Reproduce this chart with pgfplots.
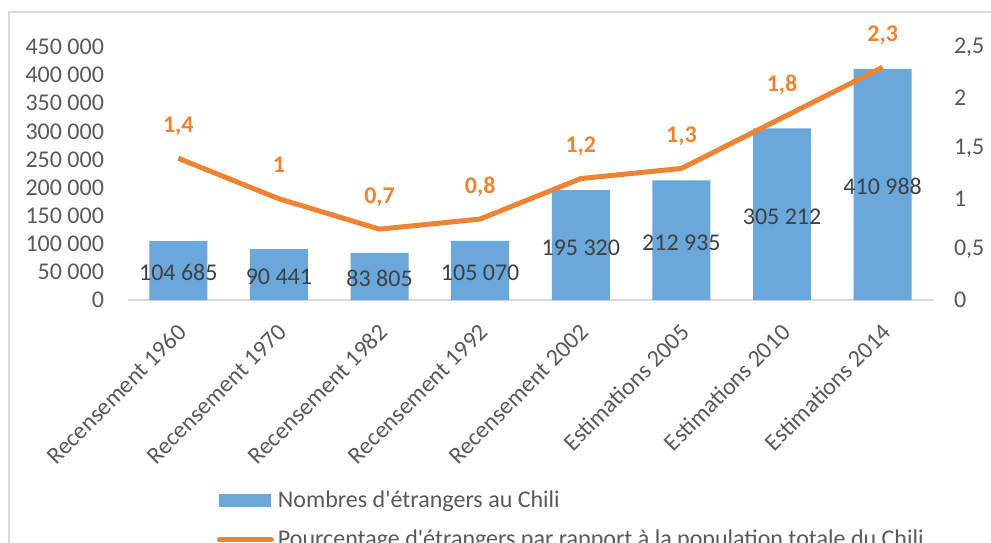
\documentclass[border=0pt]{standalone}
\usepackage{fontspec}
\setmainfont{Carlito}
\usepackage{pgfplots}
\usepackage{pgfplotstable}
\pgfplotsset{compat=1.18}

\definecolor{barblue}{RGB}{106,168,220}
\definecolor{lineorange}{RGB}{239,131,52}
\definecolor{ticktext}{RGB}{89,89,89}
\definecolor{labeltext}{RGB}{64,64,64}
\definecolor{framegray}{RGB}{217,217,217}

% x = category index, y = number of foreigners, pct = share of population (%)
\pgfplotstableread{
x y      pct
0 104685 1.4
1 90441  1.0
2 83805  0.7
3 105070 0.8
4 195320 1.2
5 212935 1.3
6 305212 1.8
7 410988 2.3
}\chili

\newcommand{\lblfont}{\fontsize{12}{14}\selectfont}

\pgfplotsset{
  common/.style={
    scale only axis, width=402.5pt, height=126.5pt,
    at={(64pt,121pt)}, anchor=south west,
    xmin=-0.5, xmax=7.5,
    major tick length=0pt,
    tick label style={font=\lblfont, text=ticktext},
  },
}

\begin{document}
\begin{tikzpicture}
\useasboundingbox (0,0) rectangle (495.5pt,271pt);
\draw[framegray, line width=1pt] (4.5pt,265pt) rectangle (520pt,-30pt);

\begin{axis}[
  common,
  ymin=0, ymax=450000,
  axis x line*=bottom, axis y line*=left,
  x axis line style={framegray, line width=1pt, -},
  y axis line style={draw=none},
  xtick={0,...,7},
  xticklabels={Recensement 1960, Recensement 1970, Recensement 1982, Recensement 1992,
    Recensement 2002, Estimations 2005, Estimations 2010, Estimations 2014},
  xticklabel style={inner sep=0pt, xshift=-1pt, yshift=-11pt, rotate=45, anchor=north east},
  ytick distance=50000,
  scaled y ticks=false,
  yticklabel style={xshift=-8.5pt, /pgf/number format/.cd, fixed, 1000 sep={\ }, assume math mode=true},
  clip=false,
]
\addplot[ybar, bar width=29pt, fill=barblue, draw=none] table[x=x, y=y] {\chili};
% value labels, centred in each bar
\addplot[draw=none, mark=none, point meta=explicit,
  nodes near coords={\pgfmathprintnumber[fixed, precision=0, 1000 sep={\ }, assume math mode=true]{\pgfplotspointmeta}},
  every node near coord/.append style={anchor=base, yshift=-5pt, font=\lblfont, text=labeltext}]
  table[x=x, y expr=\thisrow{y}/2, meta=y] {\chili};
\end{axis}

\begin{axis}[
  common,
  ymin=0, ymax=2.5,
  axis x line=none, axis y line*=right,
  y axis line style={draw=none},
  ytick={0,0.5,1,1.5,2,2.5},
  yticklabel style={xshift=7pt, /pgf/number format/.cd, use comma, assume math mode=true},
  clip=false,
  legend cell align=left,
  legend style={at={(0.11,-0.735)}, anchor=north west, draw=none, fill=none, inner sep=0pt,
    row sep=6pt, font=\lblfont, text=ticktext,
    nodes={inner xsep=2pt}},
]
\addlegendimage{legend image code/.code={\fill[barblue] (0pt,-3pt) rectangle (25.5pt,3pt);}}
\addlegendentry{Nombres d\textquotesingle étrangers au Chili}
\addplot[lineorange, line width=2.5pt, mark=none,
  legend image code/.code={\draw[lineorange, line width=2.5pt, line cap=round] (0pt,0pt) -- (26pt,0pt);},
  nodes near coords={\pgfmathprintnumber[use comma, assume math mode=true]{\pgfplotspointmeta}},
  every node near coord/.append style={anchor=base, yshift=13pt, font=\lblfont\bfseries, text=lineorange}]
  table[x=x, y=pct] {\chili};
\addlegendentry{Pourcentage d\textquotesingle étrangers par rapport à la population totale du Chili}
\end{axis}
\end{tikzpicture}
\end{document}
